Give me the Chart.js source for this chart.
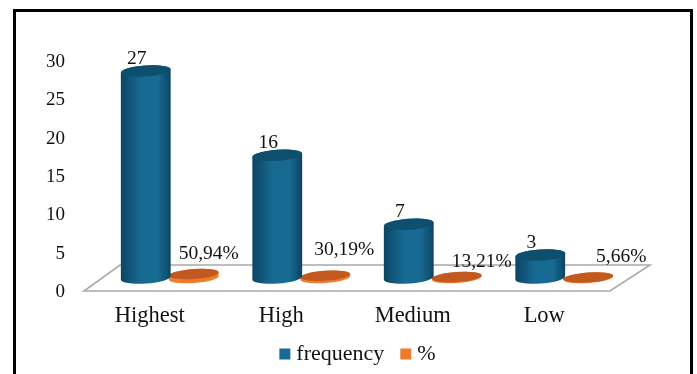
<!DOCTYPE html>
<html>
<head>
<meta charset="utf-8">
<title>Frequency by level</title>
<script src="https://cdn.jsdelivr.net/npm/chart.js@4"></script>
<style>
    html, body { margin: 0; padding: 0; background: #fff; overflow: hidden; }
    #wrap { position: relative; width: 697px; height: 374px; overflow: hidden; }
    #frame {
        position: absolute; left: 13px; top: 9px; width: 674px; height: 400px;
        border: 3px solid #000; pointer-events: none;
    }
    canvas { display: block; }
</style>
</head>
<body>
<div id="wrap">
    <canvas id="chart" width="697" height="374"></canvas>
    <div id="frame"></div>
</div>
<script>
const categories = ["Highest", "High", "Medium", "Low"];
const frequency = [27, 16, 7, 3];
const percent = [0.5094, 0.3019, 0.1321, 0.0566];
const yTicks = [0, 5, 10, 15, 20, 25, 30];

// the bars stand halfway back on the floor
const depthX = 20;
const depthY = -14;
const floorRise = 26;
const serif = '"Liberation Serif", "Times New Roman", serif';

// where the % labels sit relative to their discs
const pctLabelShift = [[15, -24], [19, -28], [25, -16], [33, -21]];

function formatPercent(v) {
    return (v * 100).toFixed(2).replace(".", ",") + "%";
}

class CylinderBar extends Chart.BarElement {
    draw(ctx) {
        const { x, y, base, width } = this.getProps(["x", "y", "base", "width"]);
        const o = this.options;
        const cx = x + depthX;
        const top = y + depthY;
        const bottom = base + depthY;
        const r = width / 2;
        const ry = o.capHeight;
        const tilt = -0.07;

        const side = ctx.createLinearGradient(cx - r, 0, cx + r, 0);
        side.addColorStop(0, o.edgeColor);
        side.addColorStop(0.4, o.backgroundColor);
        side.addColorStop(0.75, o.backgroundColor);
        side.addColorStop(1, o.edgeColor);

        ctx.save();
        ctx.fillStyle = side;
        ctx.beginPath();
        ctx.ellipse(cx, bottom, r, ry, tilt, 0, Math.PI);
        ctx.ellipse(cx, top, r, ry, tilt, Math.PI, Math.PI * 2);
        ctx.closePath();
        ctx.fill();

        ctx.fillStyle = o.capColor;
        ctx.beginPath();
        ctx.ellipse(cx, top, r, ry, tilt, 0, Math.PI * 2);
        ctx.fill();
        ctx.restore();
    }
}
CylinderBar.id = "cylinderBar";
CylinderBar.defaults = Object.assign({}, Chart.BarElement.defaults, {
    edgeColor: "#000",
    capColor: "#000",
    capHeight: 6
});
Chart.register(CylinderBar);

class CylinderController extends Chart.BarController {}
CylinderController.id = "cylinder";
CylinderController.defaults = Object.assign({}, Chart.BarController.defaults, {
    dataElementType: "cylinderBar"
});
Chart.register(CylinderController);

// the floor outline, behind the bars
const floorPlugin = {
    id: "floor",
    beforeDatasetsDraw(chart) {
        const { left, right, bottom } = chart.chartArea;
        const front = bottom - 1;
        const ctx = chart.ctx;
        ctx.save();
        ctx.strokeStyle = "#a9a9a9";
        ctx.lineWidth = 1.6;
        ctx.beginPath();
        ctx.moveTo(left, front);
        ctx.lineTo(right, front);
        ctx.lineTo(right + depthX * 2, front - floorRise);
        ctx.lineTo(left + depthX * 2 - 4, front - floorRise);
        ctx.closePath();
        ctx.stroke();
        ctx.restore();
    }
};

const valueLabelPlugin = {
    id: "valueLabels",
    afterDatasetsDraw(chart) {
        const ctx = chart.ctx;
        ctx.save();
        ctx.fillStyle = "#111";
        ctx.font = "19.5px " + serif;
        ctx.textAlign = "center";
        ctx.textBaseline = "middle";
        chart.getDatasetMeta(0).data.forEach((bar, i) => {
            ctx.fillText(frequency[i], bar.x + depthX - 9, bar.y + depthY - 12);
        });
        chart.getDatasetMeta(1).data.forEach((bar, i) => {
            const s = pctLabelShift[i];
            ctx.fillText(formatPercent(percent[i]), bar.x + depthX + s[0], bar.base + depthY + s[1]);
        });
        ctx.restore();
    }
};

// the legend sits right of centre
const legendPlugin = {
    id: "legendShift",
    afterLayout(chart) {
        chart.legend.left += 35;
        chart.legend.right += 35;
        chart.legend.top -= 9;
    }
};

new Chart(document.getElementById("chart"), {
    type: "cylinder",
    data: {
        labels: categories,
        datasets: [
            {
                label: "frequency",
                data: frequency,
                clip: false,
                backgroundColor: "#176a92",
                edgeColor: "#0c4563",
                capColor: "#0f4f6e",
                capHeight: 5.5
            },
            {
                label: "%",
                data: percent,
                clip: false,
                backgroundColor: "#ee7a2c",
                edgeColor: "#f08030",
                capColor: "#c25a20",
                capHeight: 5
            }
        ]
    },
    options: {
        responsive: false,
        animation: false,
        categoryPercentage: 0.73,
        barPercentage: 1.04,
        layout: { padding: { left: 40, right: 87, top: 62, bottom: -10 } },
        scales: {
            x: {
                afterFit(scale) { scale.height = 39; },
                grid: { display: false, drawTicks: false },
                border: { display: false },
                ticks: { padding: 11, color: "#111", font: { family: serif, size: 22.5 } }
            },
            y: {
                min: 0,
                max: 30,
                afterFit(scale) { scale.width = 44; },
                afterBuildTicks(scale) { scale.ticks = yTicks.map(v => ({ value: v })); },
                grid: { display: false, drawTicks: false },
                border: { display: false },
                ticks: { padding: 19, color: "#111", font: { family: serif, size: 19 } }
            }
        },
        plugins: {
            tooltip: { enabled: false },
            legend: {
                position: "bottom",
                labels: {
                    usePointStyle: true,
                    pointStyle: "rect",
                    boxWidth: 1,
                    boxHeight: 11,
                    padding: 21,
                    color: "#111",
                    font: { family: serif, size: 22 }
                }
            }
        }
    },
    plugins: [floorPlugin, valueLabelPlugin, legendPlugin]
});
</script>
</body>
</html>
